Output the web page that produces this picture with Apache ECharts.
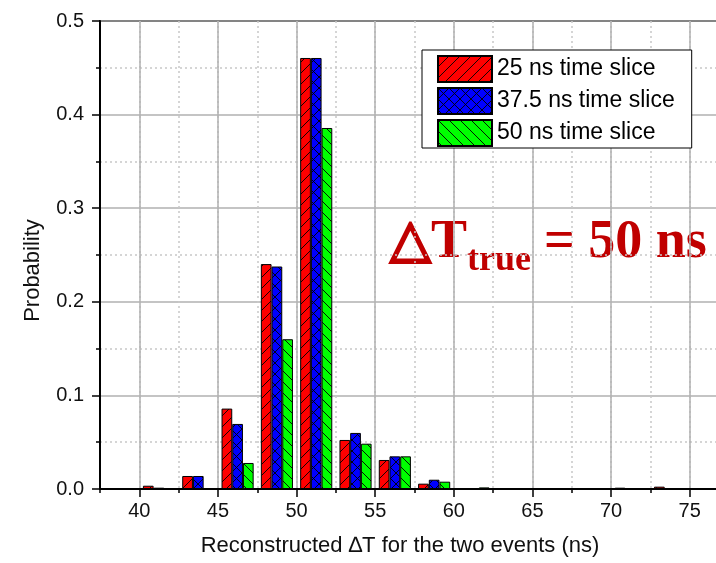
<!DOCTYPE html>
<html><head><meta charset="utf-8">
<script src="https://cdn.jsdelivr.net/npm/echarts@6/dist/echarts.min.js"></script>
<style>html,body{margin:0;padding:0;background:#fff}#c{width:716px;height:563px}</style>
</head><body><div id="c"></div>
<script>
// ---- data ----
const binCenters = [41.25, 43.75, 46.25, 48.75, 51.25, 53.75, 56.25, 58.75, 61.25, 63.75, 66.25, 68.75, 71.25, 73.75, 76.25];
const slice25  = [0.0035, 0.0139, 0.0859, 0.2403, 0.4605, 0.0524, 0.0310, 0.0057, 0.0005, 0, 0, 0, 0.0014, 0.0025, 0];
const slice375 = [0.0014, 0.0139, 0.0695, 0.2377, 0.4605, 0.0599, 0.0349, 0.0099, 0.0005, 0, 0, 0.0005, 0, 0, 0];
const slice50  = [0, 0, 0.0278, 0.1600, 0.3857, 0.0484, 0.0349, 0.0078, 0.0017, 0, 0, 0.0005, 0, 0, 0];
const seriesNames = ['25 ns time slice', '37.5 ns time slice', '50 ns time slice'];
const xMajorTicks = [40, 45, 50, 55, 60, 65, 70, 75];
const xMin = 37.5, xMax = 77.5, xMinorStep = 2.5;
const yMin = 0, yMax = 0.5, yStep = 0.1;
const xName = 'Reconstructed \u2206T for the two events (ns)';
const yName = 'Probability';

// ---- hatch patterns ----
function hatch(fill, kind) {
  const s = 11;
  const c = document.createElement('canvas');
  c.width = s; c.height = s;
  const g = c.getContext('2d');
  g.fillStyle = fill; g.fillRect(0, 0, s, s);
  g.strokeStyle = '#000'; g.lineWidth = 0.9;
  const fwd = () => { g.beginPath(); g.moveTo(-1, s + 1); g.lineTo(s + 1, -1); g.moveTo(-1, 1); g.lineTo(1, -1); g.moveTo(s - 1, s + 1); g.lineTo(s + 1, s - 1); g.stroke(); };
  const back = () => { g.beginPath(); g.moveTo(-1, -1); g.lineTo(s + 1, s + 1); g.moveTo(s - 1, -1); g.lineTo(s + 1, 1); g.moveTo(-1, s - 1); g.lineTo(1, s + 1); g.stroke(); };
  if (kind === 'fwd' || kind === 'cross') fwd();
  if (kind === 'back' || kind === 'cross') back();
  return { image: c, repeat: 'repeat' };
}
const fills = [hatch('#ff0000', 'fwd'), hatch('#0000ff', 'cross'), hatch('#00ff00', 'back')];
const values = [slice25, slice375, slice50];

const font = 'Liberation Sans';
const majorGrid = { color: '#b0b0b0', width: 1.5, type: 'solid' };
const minorGrid = { color: '#c8c8c8', width: 1.5, type: [2, 3] };
const red = '#c00000';

const chart = echarts.init(document.getElementById('c'), null, { renderer: 'canvas' });
chart.setOption({
  animation: false,
  backgroundColor: '#fff',
  grid: { left: 100, top: 21, right: -13, bottom: 74, containLabel: false, outerBoundsMode: 'none',
          show: true, borderColor: '#000', borderWidth: 2, backgroundColor: 'transparent' },
  legend: {
    orient: 'vertical', left: 422, top: 50, itemWidth: 54, itemHeight: 26, itemGap: 4,
    padding: [5, 17, 1, 15], backgroundColor: '#fff', borderColor: '#000', borderWidth: 1, borderRadius: 0,
    icon: 'rect', selectedMode: false,
    textStyle: { fontFamily: font, fontSize: 23, color: '#000' },
    data: seriesNames
  },
  xAxis: [
    {
      type: 'value', position: 'bottom', min: xMin, max: xMax, interval: xMinorStep,
      axisLine: { show: true, onZero: false, lineStyle: { color: '#000', width: 2 } },
      axisTick: { show: true, inside: false, length: 4, lineStyle: { color: '#000', width: 1.5 } },
      axisLabel: { show: true, margin: 12, fontFamily: font, fontSize: 20, color: '#111',
        formatter: v => (Math.abs(v / 5 - Math.round(v / 5)) < 1e-6 ? String(Math.round(v)) : '') },
      splitLine: { show: true, lineStyle: minorGrid },
      name: xName, nameLocation: 'middle', nameGap: 46,
      nameTextStyle: { fontFamily: font, fontSize: 22, color: '#111', padding: [0, 29, 0, 0] }
    },
    {
      type: 'value', position: 'bottom', min: xMin, max: xMax,
      axisLine: { show: false },
      axisTick: { show: true, inside: false, length: 8, customValues: xMajorTicks, lineStyle: { color: '#000', width: 1.5 } },
      axisLabel: { show: false, customValues: xMajorTicks },
      splitLine: { show: true, lineStyle: majorGrid }
    }
  ],
  yAxis: {
    type: 'value', min: yMin, max: yMax, interval: yStep,
    axisLine: { show: true, onZero: false, lineStyle: { color: '#000', width: 2 } },
    axisTick: { show: true, inside: false, length: 8, lineStyle: { color: '#000', width: 1.5 } },
    minorTick: { show: true, splitNumber: 2, length: 4, lineStyle: { color: '#000', width: 1.5 } },
    axisLabel: { margin: 16, fontFamily: font, fontSize: 20, color: '#111', formatter: v => v.toFixed(1) },
    splitLine: { show: true, lineStyle: majorGrid },
    minorSplitLine: { show: true, lineStyle: minorGrid },
    name: yName, nameLocation: 'middle', nameGap: 56,
    nameTextStyle: { fontFamily: font, fontSize: 22, color: '#111', padding: [0, 31, 0, 0] }
  },
  series: seriesNames.map((name, k) => ({
    name, type: 'bar', xAxisIndex: 0, yAxisIndex: 0,
    barWidth: 10.7, barGap: '0%',
    itemStyle: { color: fills[k], borderColor: '#000', borderWidth: 1 },
    emphasis: { disabled: true },
    data: binCenters.map((x, i) => [x, values[k][i]])
  })),
  graphic: [
    { type: 'text', style: { x: 390, y: 242, text: '\u25B3', font: 'bold 53px "DejaVu Sans"', fill: red, stroke: red, lineWidth: 2.5, verticalAlign: 'middle', align: 'left' } },
    { type: 'text', style: { x: 431, y: 243, text: 'T', font: 'bold 54px "Liberation Serif"', fill: red, verticalAlign: 'middle', align: 'left' } },
    { type: 'text', style: { x: 467, y: 261, text: 'true', font: 'bold 36px "Liberation Serif"', fill: red, verticalAlign: 'middle', align: 'left' } },
    { type: 'text', style: { x: 544, y: 243, text: '= 50 ns', font: 'bold 54px "Liberation Serif"', fill: red, verticalAlign: 'middle', align: 'left' } }
  ]
});
</script></body></html>
